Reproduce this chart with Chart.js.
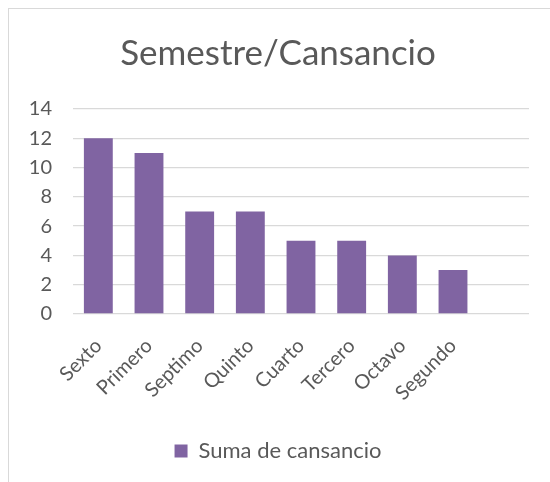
<!DOCTYPE html>
<html lang="es">
  <head>
    <meta charset="UTF-8" />
    <title>Semestre/Cansancio</title>
    <script src="https://cdn.jsdelivr.net/npm/chart.js"></script>
    <style>
      html, body { margin: 0; padding: 0; background: #fff; overflow: hidden; }
      .marco {
        position: absolute; left: 8px; top: 8px; width: 560px; height: 490px;
        border-left: 1px solid #d9d9d9; border-top: 1px solid #d9d9d9;
      }
      canvas { display: block; }
    </style>
  </head>
  <body>
    <div class="marco">
      <canvas id="myChart" width="550" height="474"></canvas>
    </div>
    <script>
      const semestres = ["Sexto", "Primero", "Septimo", "Quinto", "Cuarto", "Tercero", "Octavo", "Segundo", ""];
      const cansancio = [12, 11, 7, 7, 5, 5, 4, 3, null];
      const yTicks = [0, 2, 4, 6, 8, 10, 12, 14];

      const gris = "#595959";
      const fuente = "Lato, 'Open Sans', sans-serif";

      const ctx = document.querySelector("#myChart");
      new Chart(ctx, {
        type: "bar",
        data: {
          labels: semestres,
          datasets: [
            {
              label: "Suma de cansancio",
              data: cansancio,
              backgroundColor: "#8064a2",
              categoryPercentage: 1,
              barPercentage: 0.57,
            },
          ],
        },
        options: {
          responsive: false,
          animation: false,
          layout: { padding: { left: 18, right: 30, top: 0, bottom: 11 } },
          plugins: {
            title: {
              display: true,
              text: "Semestre/Cansancio",
              color: gris,
              font: { family: fuente, size: 35, weight: "normal" },
              padding: { top: 24, bottom: 34 },
            },
            legend: {
              position: "bottom",
              labels: {
                color: gris,
                font: { family: fuente, size: 22 },
                boxWidth: 13,
                boxHeight: 13,
                padding: 8,
              },
            },
            tooltip: { enabled: false },
          },
          scales: {
            x: {
              grid: { display: false, drawTicks: false },
              border: { display: false },
              ticks: {
                color: gris,
                font: { family: fuente, size: 20 },
                minRotation: 45,
                maxRotation: 45,
                padding: 20,
                autoSkip: false,
              },
              afterFit(scale) { scale.height = 118; },
            },
            y: {
              min: 0,
              max: 14,
              afterBuildTicks(scale) { scale.ticks = yTicks.map(v => ({ value: v })); },
              grid: { color: "#d9d9d9", lineWidth: 1.3, drawTicks: false },
              border: { display: false },
              ticks: {
                color: gris,
                font: { family: fuente, size: 20 },
                padding: 21,
              },
              afterFit(scale) { scale.width = 46; },
            },
          },
        },
      });
    </script>
  </body>
</html>
